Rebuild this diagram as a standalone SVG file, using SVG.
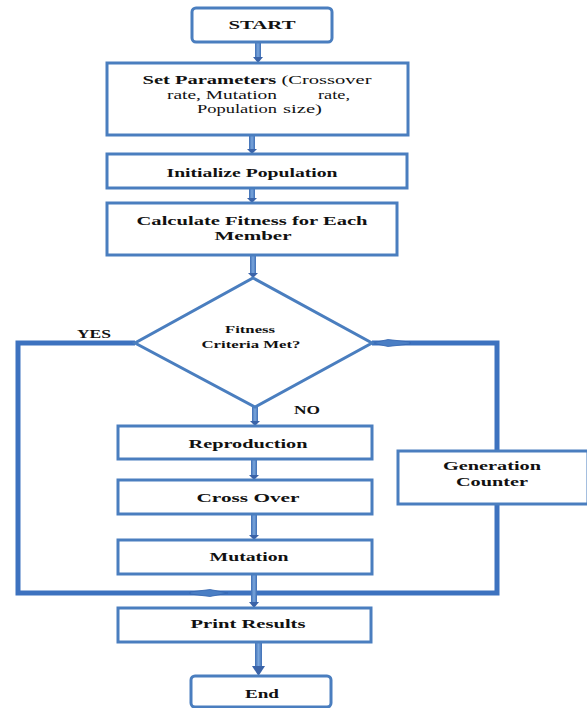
<svg xmlns="http://www.w3.org/2000/svg" width="587" height="708" viewBox="0 0 587 708">
<defs>
<linearGradient id="conn" x1="0" y1="0" x2="1" y2="0">
<stop offset="0" stop-color="#3f6fb5"/>
<stop offset="0.5" stop-color="#7aa6dc"/>
<stop offset="1" stop-color="#3f6fb5"/>
</linearGradient>
<style>
.box{fill:#ffffff;stroke:#4a7ebf;stroke-width:3}
.t{font-family:"Liberation Serif","Times New Roman",serif;font-weight:bold;font-size:13.5px;fill:#111111;text-anchor:middle}
.s{text-anchor:start}
.r{font-weight:normal}
.loop{fill:none;stroke:#3d72bf;stroke-width:5;stroke-linejoin:miter}
.shaft{fill:url(#conn)}
.head{fill:#3a63a8}
.flat{fill:#4a7ec4;stroke:#3566b0;stroke-width:0.8}
</style>
</defs>
<rect width="587" height="708" fill="#ffffff"/>

<g id="connectors">
<path class="loop" d="M135,343 H18 V593 H497 V343 H372"/>
<polygon class="flat" points="372,343 388,339.5 410,342 410,344 388,346.5"/>
<polygon class="flat" points="228,593 210,589.5 190,592 190,594 210,596.5"/>
<rect class="shaft" x="255" y="42" width="6" height="17"/>
<polygon class="head" points="253,57 263,57 258,63"/>
<rect class="shaft" x="249" y="135" width="6" height="15"/>
<polygon class="head" points="247,149 257,149 252,154"/>
<rect class="shaft" x="249" y="188" width="6" height="11"/>
<polygon class="head" points="247,198 257,198 252,203"/>
<rect class="shaft" x="250" y="255" width="6" height="19"/>
<polygon class="head" points="248,273 258,273 253,278"/>
<rect class="shaft" x="252" y="407" width="6" height="15"/>
<polygon class="head" points="250,421 260,421 255,426"/>
<rect class="shaft" x="251" y="459" width="6" height="17"/>
<polygon class="head" points="249,475 259,475 254,480"/>
<rect class="shaft" x="251" y="514" width="6" height="22"/>
<polygon class="head" points="249,535 259,535 254,540"/>
<rect class="shaft" x="251" y="574" width="6" height="29"/>
<polygon class="head" points="249,602 259,602 254,608"/>
<rect class="shaft" x="255" y="642" width="7" height="26"/>
<polygon class="head" points="252,666 265,666 258.5,676"/>
</g>

<g id="start">
<rect class="box" x="192" y="8" width="140" height="34" rx="4"/>
<text class="t" x="262" y="29" textLength="67" lengthAdjust="spacingAndGlyphs">START</text>
</g>

<g id="set-parameters">
<rect class="box" x="107" y="63" width="301" height="72"/>
<text class="t" x="257" y="84" textLength="229" lengthAdjust="spacingAndGlyphs">Set Parameters <tspan class="r">(Crossover</tspan></text>
<text class="t r s" x="167" y="99" textLength="110" lengthAdjust="spacingAndGlyphs">rate, Mutation</text>
<text class="t r s" x="318" y="99" textLength="32" lengthAdjust="spacingAndGlyphs">rate,</text>
<text class="t r s" x="197" y="113" textLength="80" lengthAdjust="spacingAndGlyphs">Population</text>
<text class="t r s" x="283" y="113" textLength="39" lengthAdjust="spacingAndGlyphs">size)</text>
</g>

<g id="initialize">
<rect class="box" x="107" y="154" width="300" height="34"/>
<text class="t" x="252" y="177" textLength="171" lengthAdjust="spacingAndGlyphs">Initialize Population</text>
</g>

<g id="calculate">
<rect class="box" x="107" y="203" width="290" height="52"/>
<text class="t" x="252" y="225" textLength="231" lengthAdjust="spacingAndGlyphs">Calculate Fitness for Each</text>
<text class="t" x="253" y="240" textLength="77" lengthAdjust="spacingAndGlyphs">Member</text>
</g>

<g id="decision">
<polygon class="box" points="253,278 372,343 255,407 135,343"/>
<text class="t" x="250" y="333" style="font-size:11px" textLength="50" lengthAdjust="spacingAndGlyphs">Fitness</text>
<text class="t" x="251" y="348" style="font-size:11px" textLength="99" lengthAdjust="spacingAndGlyphs">Criteria Met?</text>
</g>

<g id="label-yes">
<text class="t" x="94" y="338" textLength="34" lengthAdjust="spacingAndGlyphs">YES</text>
</g>
<g id="label-no">
<text class="t" x="307" y="414" textLength="26" lengthAdjust="spacingAndGlyphs">NO</text>
</g>

<g id="reproduction">
<rect class="box" x="118" y="426" width="254" height="33"/>
<text class="t" x="248" y="448" textLength="119" lengthAdjust="spacingAndGlyphs">Reproduction</text>
</g>

<g id="crossover">
<rect class="box" x="118" y="480" width="254" height="34"/>
<text class="t" x="248" y="502" textLength="103" lengthAdjust="spacingAndGlyphs">Cross Over</text>
</g>

<g id="mutation">
<rect class="box" x="118" y="540" width="254" height="34"/>
<text class="t" x="249" y="561" textLength="79" lengthAdjust="spacingAndGlyphs">Mutation</text>
</g>

<g id="generation-counter">
<rect class="box" x="398" y="451" width="190" height="53"/>
<text class="t" x="492" y="470" textLength="98" lengthAdjust="spacingAndGlyphs">Generation</text>
<text class="t" x="492" y="486" textLength="72" lengthAdjust="spacingAndGlyphs">Counter</text>
</g>

<g id="print-results">
<rect class="box" x="118" y="608" width="253" height="34"/>
<text class="t" x="248" y="628" textLength="115" lengthAdjust="spacingAndGlyphs">Print Results</text>
</g>

<g id="end">
<rect class="box" x="191" y="676" width="140" height="31" rx="4"/>
<text class="t" x="262" y="698" textLength="34" lengthAdjust="spacingAndGlyphs">End</text>
</g>
</svg>
